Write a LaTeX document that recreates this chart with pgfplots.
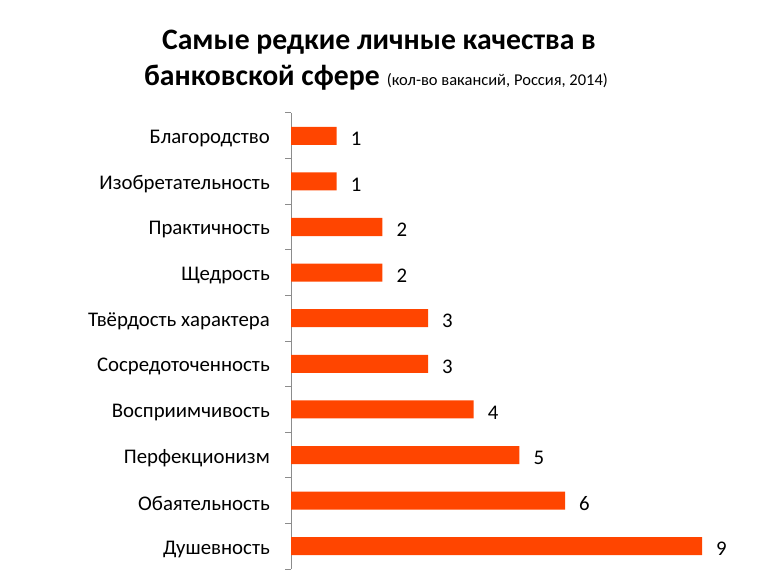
\documentclass[border=0pt]{standalone}
\usepackage{pgfplots}
\pgfplotsset{compat=1.18}
\usepackage{fontspec}
\setmainfont{Carlito}
\definecolor{barc}{HTML}{FF4500}
\definecolor{axgray}{HTML}{8C8C8C}
\begin{document}
\begin{tikzpicture}
\path[use as bounding box] (0pt,0pt) rectangle (757pt,583pt);
\node[anchor=base, inner sep=0pt, font=\bfseries\fontsize{29.7}{30}\selectfont] at (379pt,533pt) {Самые редкие личные качества в};
\node[anchor=base, inner sep=0pt] at (376pt,497pt) {{\bfseries\fontsize{29.7}{30}\selectfont банковской сфере}\hspace{7pt}{\fontsize{16.5}{17}\selectfont (кол-во вакансий, Россия, 2014)}};
\begin{axis}[
  at={(291pt,14pt)}, anchor=south west,
  scale only axis, width=456.7pt, height=456pt,
  xbar, bar width=18pt,
  xmin=0, xmax=10,
  ymin=0.5, ymax=10.5, y dir=reverse,
  hide x axis,
  axis y line*=left,
  y axis line style={axgray, line width=1pt},
  ytick={1,...,10},
  yticklabels={Благородство,Изобретательность,Практичность,Щедрость,Твёрдость характера,Сосредоточенность,Восприимчивость,Перфекционизм,Обаятельность,Душевность},
  major tick length=0pt,
  minor ytick={0.5,1.5,...,10.5},
  minor tick length=6pt,
  minor tick style={axgray, line width=1pt},
  tick align=outside,
  ytick pos=left,
  /pgf/number format/assume math mode=true,
  yticklabel style={font=\fontsize{20.8}{21}\selectfont, inner sep=0pt, xshift=-21pt, yshift=-3pt},
  nodes near coords,
  nodes near coords style={anchor=west, inner sep=0pt, xshift=14pt, yshift=-3pt, font=\fontsize{20.8}{21}\selectfont, text=black},
  clip=false,
]
\addplot[fill=barc, draw=none] coordinates {(1,1) (1,2) (2,3) (2,4) (3,5) (3,6) (4,7) (5,8) (6,9) (9,10)};
\end{axis}
\end{tikzpicture}
\end{document}
